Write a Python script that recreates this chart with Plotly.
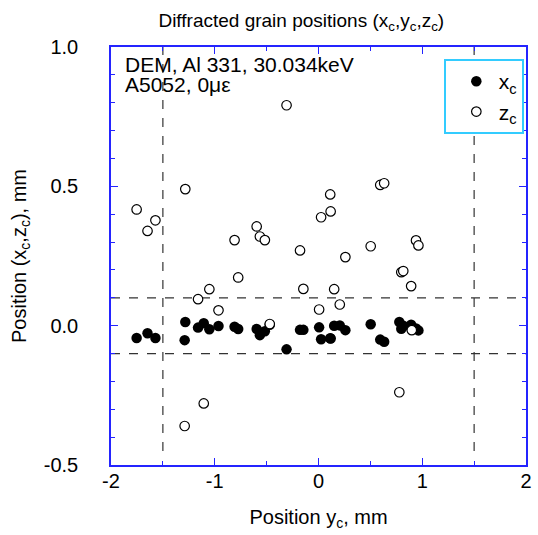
import plotly.graph_objects as go

# Grain centre positions, mm: y_c along the beam scan, with x_c and z_c for each grain
yc = [-1.753, -1.648, -1.572, -1.284, -1.290, -1.161, -1.106, -1.052, -0.964,
      -0.809, -0.774, -0.596, -0.565, -0.517, -0.470, -0.308, -0.178, -0.146,
      0.006, 0.025, 0.113, 0.117, 0.151, 0.205, 0.259, 0.503, 0.595, 0.633,
      0.779, 0.798, 0.817, 0.893, 0.899, 0.940, 0.963]
xc = [-0.044, -0.027, -0.044, 0.013, -0.052, -0.007, 0.009, -0.013, -0.001,
      -0.004, -0.012, -0.012, -0.034, -0.020, 0.003, -0.085, -0.015, -0.015,
      -0.006, -0.049, -0.045, -0.046, 0.000, 0.001, -0.016, 0.005, -0.050, -0.058,
      0.013, -0.011, 0.000, 0.003, -0.012, -0.010, -0.017]
zc = [0.417, 0.340, 0.378, 0.490, -0.360, 0.095, -0.279, 0.131, 0.055,
      0.307, 0.173, 0.356, 0.320, 0.307, 0.006, 0.791, 0.270, 0.132,
      0.058, 0.389, 0.471, 0.410, 0.131, 0.076, 0.246, 0.285, 0.505, 0.511,
      -0.239, 0.192, 0.196, 0.142, -0.016, 0.306, 0.288]

# Axis tick values and labels (plain hyphen minus)
x_tickvals = [-2, -1, 0, 1, 2]
x_ticktext = ["-2", "-1", "0", "1", "2"]
y_tickvals = [-0.5, 0.0, 0.5, 1.0]
y_ticktext = ["-0.5", "0.0", "0.5", "1.0"]

# Gauge volume limits
gauge_y = [-1.5, 1.5]
gauge_x = [-0.1, 0.1]

FONT = "Liberation Sans, Arial, Helvetica, sans-serif"
AXIS_BLUE = "#2424ff"
CYAN = "#33ccff"

fig = go.Figure()
fig.add_trace(go.Scatter(
    x=yc, y=xc, mode="markers", name="x<sub>c</sub>",
    marker=dict(symbol="circle", size=10.5, color="black", line=dict(width=0)),
))
fig.add_trace(go.Scatter(
    x=yc, y=zc, mode="markers", name="z<sub>c</sub>",
    marker=dict(symbol="circle", size=9.5, color="white",
                line=dict(color="black", width=1.2)),
))

shapes = []
for gx in gauge_x:
    shapes.append(dict(type="line", xref="x", yref="y", x0=-2, x1=2, y0=gx, y1=gx,
                       line=dict(color="#333", width=1.2, dash="dash"), layer="below"))
for gy in gauge_y:
    shapes.append(dict(type="line", xref="x", yref="y", x0=gy, x1=gy, y0=-0.45, y1=1.0,
                       line=dict(color="#333", width=1.2, dash="dash"), layer="below"))
# drop shadow behind the legend box
shapes.append(dict(type="rect", xref="paper", yref="paper",
                   x0=0.810, x1=0.9917, y0=0.7925, y1=0.955,
                   fillcolor="#18a4d8", line=dict(width=0), layer="above"))

axis_common = dict(
    showline=True, linecolor=AXIS_BLUE, linewidth=1.5, mirror="ticks",
    ticks="inside", ticklen=7, tickwidth=1.2, tickcolor=AXIS_BLUE,
    showgrid=False, zeroline=False,
    tickfont=dict(family=FONT, size=20, color="black"),
)

fig.update_layout(
    width=538, height=535,
    margin=dict(l=111, r=6, t=47, b=70),
    paper_bgcolor="white", plot_bgcolor="white",
    font=dict(family=FONT, size=20, color="black"),
    title=dict(text="Diffracted grain positions (x<sub>c</sub>,y<sub>c</sub>,z<sub>c</sub>)",
               x=0.56, xanchor="center", y=0.962, yanchor="middle", yref="container",
               font=dict(family=FONT, size=19, color="black")),
    xaxis=dict(range=[-2, 2], tickmode="array", tickvals=x_tickvals, ticktext=x_ticktext,
               minor=dict(dtick=0.5, tick0=0, ticks="inside", ticklen=4, tickcolor=AXIS_BLUE),
               ticklabelstandoff=-3,
               title=dict(text="Position y<sub>c</sub>, mm", standoff=19,
                          font=dict(family=FONT, size=20)),
               **axis_common),
    yaxis=dict(range=[-0.5, 1.0], tickmode="array", tickvals=y_tickvals, ticktext=y_ticktext,
               minor=dict(dtick=0.1, tick0=0, ticks="inside", ticklen=4, tickcolor=AXIS_BLUE),
               ticklabelstandoff=27,
               title=dict(text="Position (x<sub>c</sub>,z<sub>c</sub>), mm", standoff=12,
                          font=dict(family=FONT, size=20)),
               **axis_common),
    legend=dict(x=0.802, y=0.971, xanchor="left", yanchor="top",
                bgcolor="white", bordercolor=CYAN, borderwidth=2,
                font=dict(family=FONT, size=21, color="black"),
                indentation=8, itemwidth=35, tracegroupgap=0),
    showlegend=True,
    shapes=shapes,
    annotations=[
        dict(text="DEM, Al 331, 30.034keV", xref="paper", yref="paper",
             x=0.03, y=0.957, xanchor="left", yanchor="middle", showarrow=False,
             font=dict(family=FONT, size=21, color="black")),
        dict(text="A5052, 0\u03bc\u03b5", xref="paper", yref="paper",
             x=0.03, y=0.910, xanchor="left", yanchor="middle", showarrow=False,
             font=dict(family=FONT, size=21, color="black")),
    ],
)

fig.write_html("out.html")
